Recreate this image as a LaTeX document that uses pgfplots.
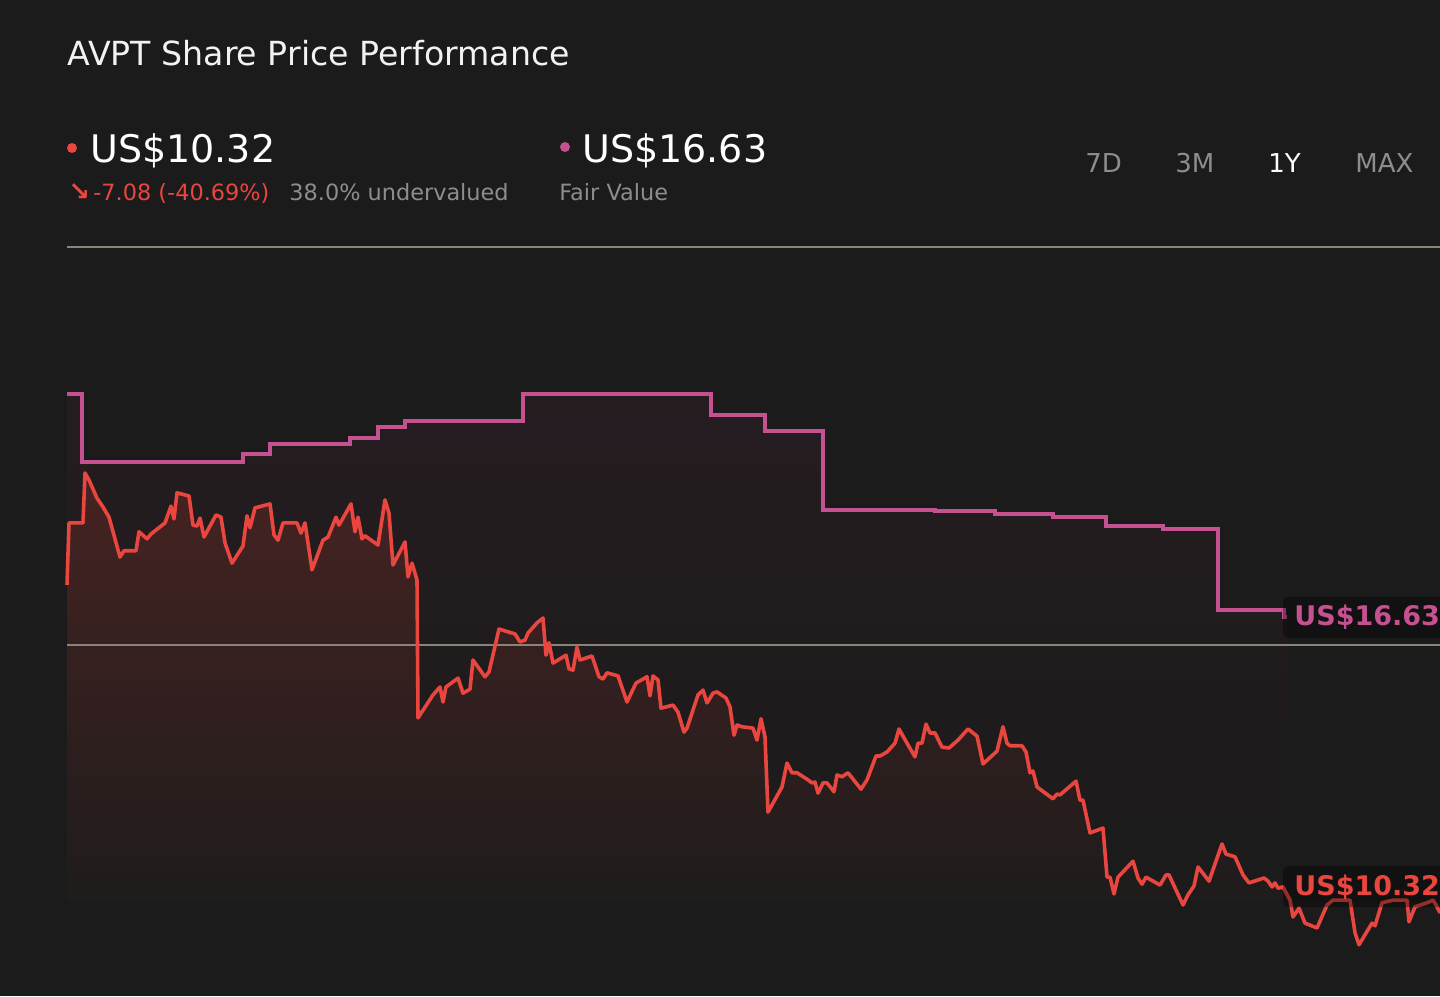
\documentclass[border=0pt]{standalone}
\usepackage{pgfplots}
\pgfplotsset{compat=1.18}
\usepackage{pgfplotstable}
\usepackage{fontspec}
\setmainfont{DejaVu Sans}
\definecolor{bg}{RGB}{27,27,27}
\definecolor{redc}{RGB}{232,70,62}
\definecolor{pinkc}{RGB}{197,81,145}
\definecolor{gridc}{RGB}{135,133,120}
\definecolor{grayt}{RGB}{141,141,141}
\definecolor{whitet}{RGB}{242,242,242}
\definecolor{redfill}{RGB}{70,35,34}
\definecolor{fvfill}{RGB}{37,28,32}

\pgfplotstableread{
x y
67 17.36
69 18.76
83 18.76
85 19.89
89 19.73
97 19.32
103 19.12
109 18.89
120 17.99
124 18.13
136 18.13
139 18.56
147 18.40
151 18.51
160 18.67
165 18.76
171 19.14
174 18.85
177 19.44
189 19.37
193 18.71
197 18.69
200 18.87
204 18.44
216 18.94
221 18.89
225 18.31
232 17.85
243 18.24
247 18.92
250 18.65
255 19.10
270 19.19
274 18.49
278 18.37
283 18.76
297 18.76
301 18.53
305 18.76
312 17.70
323 18.37
328 18.44
336 18.89
339 18.71
351 19.19
355 18.56
358 18.89
362 18.40
365 18.47
378 18.26
385 19.28
389 18.98
393 17.81
405 18.33
408 17.54
412 17.85
417 17.47
418 14.35
433 14.87
440 15.05
443 14.71
446 15.05
458 15.25
463 14.91
470 15.00
473 15.66
485 15.28
489 15.39
499 16.36
515 16.25
520 16.07
525 16.11
528 16.27
537 16.50
543 16.61
546 15.77
549 16.05
553 15.59
566 15.77
569 15.46
573 15.43
577 15.95
580 15.66
592 15.75
599 15.28
603 15.23
607 15.37
618 15.30
627 14.71
636 15.14
647 15.28
650 14.85
653 15.30
658 15.21
661 14.57
673 14.64
678 14.48
684 14.03
687 14.12
698 14.87
703 14.98
707 14.69
713 14.91
717 14.94
726 14.80
730 14.60
734 13.96
737 14.19
742 14.15
753 14.12
757 13.85
761 14.33
765 13.92
768 12.22
782 12.79
787 13.33
792 13.11
797 13.11
808 12.95
812 12.88
815 12.90
818 12.65
823 12.88
827 12.88
834 12.68
837 13.06
842 13.02
848 13.11
861 12.74
867 12.95
876 13.49
880 13.49
887 13.58
895 13.78
899 14.10
907 13.78
915 13.47
918 13.78
922 13.78
926 14.21
930 14.01
935 14.01
942 13.69
949 13.67
958 13.85
968 14.10
977 13.94
983 13.31
997 13.60
1003 14.15
1007 13.78
1010 13.72
1022 13.72
1026 13.58
1030 13.11
1033 13.15
1037 12.79
1053 12.52
1057 12.63
1060 12.61
1076 12.92
1080 12.49
1083 12.49
1090 11.75
1103 11.86
1107 10.75
1110 10.75
1114 10.37
1118 10.75
1133 11.11
1138 10.73
1142 10.59
1146 10.75
1160 10.57
1166 10.80
1169 10.80
1183 10.12
1188 10.35
1194 10.55
1198 10.98
1209 10.66
1222 11.50
1226 11.27
1235 11.21
1243 10.80
1249 10.62
1264 10.73
1268 10.66
1272 10.53
1275 10.62
1278 10.50
1283 10.53
1290 10.23
1293 9.85
1299 10.05
1305 9.71
1317 9.60
1327 10.12
1333 10.23
1350 10.23
1355 9.49
1359 9.22
1372 9.71
1375 9.65
1382 10.17
1393 10.23
1407 10.23
1409 9.74
1415 10.08
1427 10.17
1433 10.23
1437 10.08
1440 9.94
}\price

\pgfplotstableread{
x y
67 21.68
82 20.14
243 20.32
270 20.55
350 20.68
378 20.93
405 21.07
523 21.68
711 21.20
765 20.84
823 19.05
935 19.03
995 18.96
1053 18.89
1106 18.69
1163 18.62
1218 16.79
1284 16.63
1287 16.63
}\fv

\begin{document}
\begin{tikzpicture}
\fill[bg] (0,0) rectangle (720pt,-498pt);

\begin{scope}[x=0.5pt,y=-0.5pt]
\node[anchor=base west, inner sep=0pt, text=whitet, font=\fontsize{16.6}{20}\selectfont] at (67,65) {AVPT Share Price Performance};
\fill[redc] (72,148) circle (5);
\node[anchor=base west, inner sep=0pt, text=white, font=\fontsize{19}{22}\selectfont] at (90,162) {US\$10.32};
\node[anchor=base west, inner sep=0pt, text=redc, font=\bfseries\fontsize{13}{13}\selectfont] at (68,200) {↘};
\node[anchor=base west, inner sep=0pt, text=redc, font=\fontsize{11.2}{13}\selectfont] at (93,200) {-7.08 (-40.69\%)};
\node[anchor=base west, inner sep=0pt, text=grayt, font=\fontsize{11.2}{13}\selectfont] at (289,200) {38.0\% undervalued};
\fill[pinkc] (565,147) circle (5);
\node[anchor=base west, inner sep=0pt, text=white, font=\fontsize{19}{22}\selectfont] at (582,162) {US\$16.63};
\node[anchor=base west, inner sep=0pt, text=grayt, font=\fontsize{11.2}{13}\selectfont] at (559,200) {Fair Value};
\node[anchor=base west, inner sep=0pt, text=grayt, font=\fontsize{13}{15}\selectfont] at (1085,172) {7D};
\node[anchor=base west, inner sep=0pt, text=grayt, font=\fontsize{13}{15}\selectfont] at (1175,172) {3M};
\node[anchor=base west, inner sep=0pt, text=white, font=\fontsize{13}{15}\selectfont] at (1268,172) {1Y};
\node[anchor=base west, inner sep=0pt, text=grayt, font=\fontsize{13}{15}\selectfont] at (1355,172) {MAX};
\end{scope}

\begin{axis}[at={(33.5pt,-477.25pt)}, anchor=south west, scale only axis,
  width=686.5pt, height=353.75pt, xmin=67, xmax=1440, ymin=9, ymax=25,
  hide axis, clip=false]
\addplot[draw=none, top color=fvfill, bottom color=bg, const plot] table {\fv}
  -- (axis cs:1287,10.2) -- (axis cs:67,10.2) -- cycle;
\addplot[draw=none, top color=redfill, bottom color=bg] table {\price}
  -- (axis cs:1440,10.2) -- (axis cs:67,10.2) -- cycle;
\addplot[gridc, line width=1pt] coordinates {(67,25) (1440,25)};
\addplot[gridc, line width=1pt] coordinates {(67,16) (1440,16)};
\addplot[pinkc, line width=1.8pt, const plot] table {\fv};
\addplot[redc, line width=1.8pt, line join=round] table {\price};
\end{axis}

\begin{scope}
\clip (0,0) rectangle (720pt,-498pt);
\begin{scope}[x=0.5pt,y=-0.5pt]
\fill[black, opacity=0.35, rounded corners=3pt] (1283,597) rectangle (1470,638);
\node[anchor=base west, inner sep=0pt, text=pinkc, font=\bfseries\fontsize{13.5}{15}\selectfont] at (1294,625) {US\$16.63};
\fill[black, opacity=0.35, rounded corners=3pt] (1283,866) rectangle (1470,907);
\node[anchor=base west, inner sep=0pt, text=redc, font=\bfseries\fontsize{13.5}{15}\selectfont] at (1294,895) {US\$10.32};
\end{scope}
\end{scope}
\pgfresetboundingbox
\path[use as bounding box] (0,0) rectangle (720pt,-498pt);
\end{tikzpicture}
\end{document}
